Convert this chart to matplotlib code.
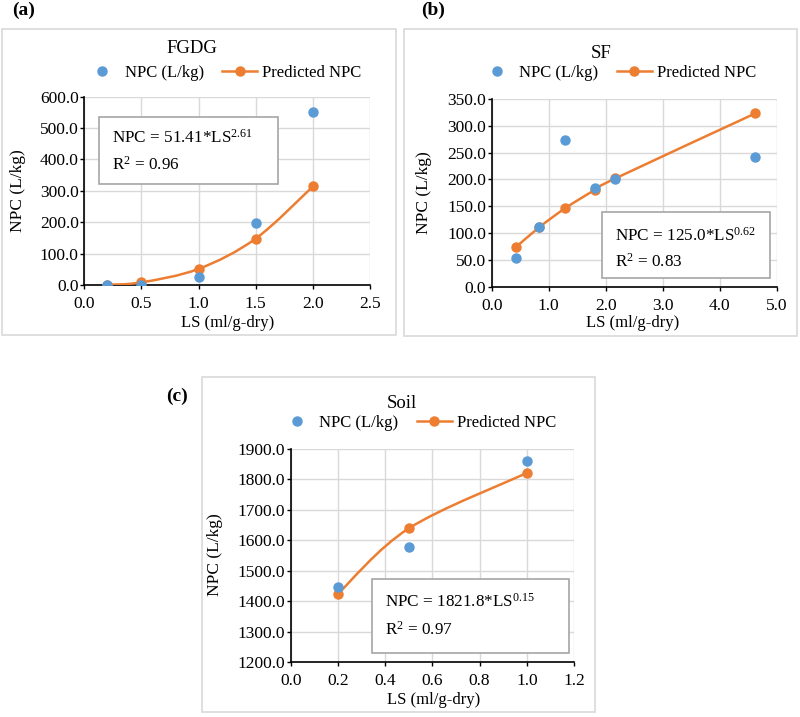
import numpy as np
import matplotlib
matplotlib.use('Agg')
from matplotlib import pyplot as plt
from matplotlib.path import Path
from matplotlib.patches import PathPatch, Rectangle
from matplotlib.lines import Line2D

plt.rcParams['font.family'] = ['Liberation Serif', 'DejaVu Serif']
plt.rcParams['mathtext.fontset'] = 'custom'
plt.rcParams['mathtext.rm'] = 'Liberation Serif'
plt.rcParams['mathtext.it'] = 'Liberation Serif:italic'

BLUE = '#5B9BD5'
ORANGE = '#ED7D31'
GRID = '#d9d9d9'

# (a) FGDG
fgdg_ls = [0.2, 0.5, 1.0, 1.5, 2.0]
fgdg_npc = [1.5, 1.5, 24.5, 199.0, 552.0]
fgdg_pred = [0.8, 8.4, 51.4, 148.0, 314.0]

# (b) SF
sf_ls = [0.43, 0.83, 1.29, 1.81, 2.17, 4.62]
sf_npc = [53.0, 112.0, 273.0, 184.0, 201.0, 241.0]
sf_pred = [74.1, 110.5, 146.4, 180.6, 202.0, 323.0]

# (c) Soil
soil_ls = [0.2, 0.5, 1.0]
soil_npc = [1448.0, 1579.0, 1861.0]
soil_pred = [1424.0, 1639.0, 1821.0]


def smooth_path(xs, ys):
    # excel-like smoothed line (catmull-rom as cubic bezier)
    pts = np.column_stack([xs, ys]).astype(float)
    ext = np.vstack([pts[0], pts, pts[-1]])
    verts = [pts[0]]
    codes = [Path.MOVETO]
    for i in range(len(pts) - 1):
        p0, p1, p2, p3 = ext[i], ext[i + 1], ext[i + 2], ext[i + 3]
        verts += [p1 + (p2 - p0) / 6, p2 - (p3 - p1) / 6, p2]
        codes += [Path.CURVE4] * 3
    return Path(verts, codes)


fig = plt.figure(figsize=(8, 7.17), dpi=100)


def panel(p):
    # chart frame
    fig.patches.append(Rectangle(p['frame'][:2], *p['frame'][2:], transform=fig.transFigure,
                                 fill=False, ec=GRID, lw=1.2))
    fig.text(*p['tag_xy'], p['tag'], fontsize=14, fontweight='bold', ha='left', va='center')

    ax = fig.add_axes(p['rect'])
    xs, npc, pred = p['x'], p['npc'], p['pred']
    ax.add_patch(PathPatch(smooth_path(xs, pred), fill=False, ec=ORANGE, lw=1.8, zorder=3))
    ax.plot(xs, pred, 'o', color=ORANGE, ms=6.5, zorder=4)
    ax.plot(xs, npc, 'o', color=BLUE, ms=6.5, zorder=5)

    ax.set_xlim(*p['xlim'])
    ax.set_ylim(*p['ylim'])
    ax.set_xticks(np.arange(p['xlim'][0], p['xlim'][1] + 1e-9, p['xstep']))
    ax.set_yticks(np.arange(p['ylim'][0], p['ylim'][1] + 1e-9, p['ystep']))
    ax.xaxis.set_major_formatter('{x:.1f}')
    ax.yaxis.set_major_formatter('{x:.1f}')
    ax.grid(True, color=GRID, lw=1.0)
    ax.set_axisbelow(True)
    for s in ['top', 'right']:
        ax.spines[s].set_visible(False)
    for s in ['left', 'bottom']:
        ax.spines[s].set_linewidth(1.2)
    ax.tick_params(axis='both', direction='out', length=3, width=1.0, labelsize=12.5)
    ax.tick_params(axis='y', pad=1)
    ax.tick_params(axis='x', pad=5)

    ax.set_xlabel('LS (ml/g-dry)', fontsize=12, va='center')
    ax.set_ylabel('NPC (L/kg)', fontsize=12.5, va='center')
    ax.xaxis.set_label_coords(*p['xlab'])
    ax.yaxis.set_label_coords(*p['ylab'])

    fig.text(*p['title_xy'], p['title'], fontsize=13.5, ha='center', va='center')
    handles = [Line2D([], [], ls='none', marker='o', color=BLUE, ms=6.5),
               Line2D([], [], ls='-', lw=1.8, marker='o', color=ORANGE, ms=6.5)]
    fig.legend(handles, ['NPC (L/kg)', 'Predicted NPC'], loc='center', bbox_to_anchor=p['leg_xy'],
               ncol=2, frameon=False, fontsize=12, handlelength=2.1, handletextpad=0.3,
               columnspacing=1.1, borderpad=0)

    bx = p['box']
    ax.add_patch(Rectangle(bx[:2], bx[2], bx[3], transform=ax.transAxes, fc='white',
                           ec='#a6a6a6', lw=1.2, zorder=6))
    ex, ey1, ey2 = p['eq_xy']
    ax.text(ex, ey1, p['eq'], transform=ax.transAxes, fontsize=12.3, va='baseline', zorder=7)
    ax.text(ex, ey2, p['r2'], transform=ax.transAxes, fontsize=12.3, va='baseline', zorder=7)
    return ax


panel(dict(frame=(0.0025, 0.5328, 0.4925, 0.4268), tag='(a)', tag_xy=(0.015, 0.986),
           rect=[0.1054, 0.6025, 0.3571, 0.2626], x=fgdg_ls, npc=fgdg_npc, pred=fgdg_pred,
           xlim=(0, 2.5), xstep=0.5, ylim=(0, 600), ystep=100,
           xlab=(0.503, -0.203), ylab=(-0.232, 0.5),
           title='FGDG', title_xy=(0.24, 0.9317), leg_xy=(0.279, 0.898),
           box=(0.051, 0.536, 0.627, 0.356), eq_xy=(0.096, 0.754, 0.611),
           eq='NPC = 51.41*LS$^{2.61}$', r2='R$^{2}$ = 0.96'))

panel(dict(frame=(0.505, 0.5314, 0.49125, 0.4282), tag='(b)', tag_xy=(0.527, 0.986),
           rect=[0.6146, 0.6001, 0.3563, 0.2618], x=sf_ls, npc=sf_npc, pred=sf_pred,
           xlim=(0, 5), xstep=1, ylim=(0, 350), ystep=50,
           xlab=(0.496, -0.195), ylab=(-0.236, 0.5),
           title='SF', title_xy=(0.751, 0.9247), leg_xy=(0.772, 0.898),
           box=(0.386, 0.046, 0.591, 0.352), eq_xy=(0.433, 0.245, 0.107),
           eq='NPC = 125.0*LS$^{0.62}$', r2='R$^{2}$ = 0.83'))

panel(dict(frame=(0.2525, 0.007, 0.49125, 0.4672), tag='(c)', tag_xy=(0.2075, 0.4467),
           rect=[0.3634, 0.0767, 0.3541, 0.2971], x=soil_ls, npc=soil_npc, pred=soil_pred,
           xlim=(0, 1.2), xstep=0.2, ylim=(1200, 1900), ystep=100,
           xlab=(0.503, -0.178), ylab=(-0.267, 0.502),
           title='Soil', title_xy=(0.502, 0.4379), leg_xy=(0.522, 0.41),
           box=(0.287, 0.043, 0.695, 0.347), eq_xy=(0.334, 0.260, 0.127),
           eq='NPC = 1821.8*LS$^{0.15}$', r2='R$^{2}$ = 0.97'))

fig.savefig('out.png', dpi=100)
